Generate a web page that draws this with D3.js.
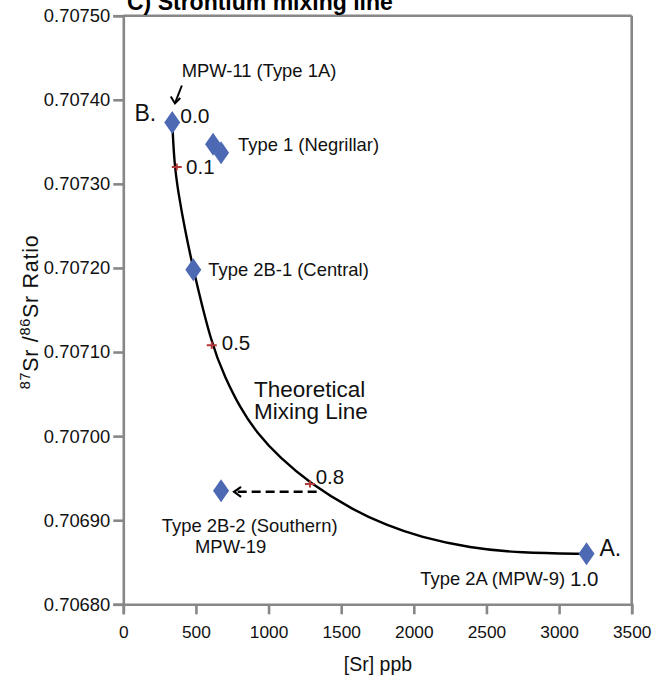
<!DOCTYPE html>
<html>
<head>
<meta charset="utf-8">
<script src="https://cdn.jsdelivr.net/npm/d3@7"></script>
<style>
  html, body { margin: 0; padding: 0; background: #fff; }
  svg { display: block; font-family: "Liberation Sans", Arial, Helvetica, sans-serif; }
</style>
</head>
<body>
<svg id="chart" width="652" height="678"></svg>
<script>
// ---------------- data ----------------
const title = "C) Strontium mixing line";
const xTicks = [0, 500, 1000, 1500, 2000, 2500, 3000, 3500];
const yTicks = [0.7068, 0.7069, 0.7070, 0.7071, 0.7072, 0.7073, 0.7074, 0.7075];

// sample diamonds
const sampleNames = ["MPW-11 (Type 1A)", "Type 1 (Negrillar) a", "Type 1 (Negrillar) b", "Type 2B-1 (Central)", "Type 2B-2 (Southern)", "Type 2A (MPW-9)"];
const sampleSr = [337, 618, 673, 482, 673, 3189];
const sampleRatio = [0.707373, 0.707347, 0.707337, 0.707198, 0.706935, 0.706860];

// theoretical mixing line
const curveSr = [337, 351, 379, 425, 482, 609, 700, 803, 918, 1079, 1285, 1581, 1813, 2043, 2387, 2731, 3189];
const curveRatio = [0.707373, 0.707324, 0.707289, 0.707245, 0.707198, 0.707108, 0.707070, 0.707034, 0.707004, 0.706974, 0.706944, 0.706912, 0.706894, 0.706880, 0.706867, 0.706861, 0.706860];

// mixing fraction ticks
const fracLabels = ["0.1", "0.5", "0.8"];
const fracSr = [368, 609, 1285];
const fracRatio = [0.70732, 0.707108, 0.706943];

// annotation of the line
const lineLabel = ["Theoretical", "Mixing Line"];
const lineLabelSr = 900;
const lineLabelRatio = 0.707047;

// ---------------- layout ----------------
const svg = d3.select("#chart");
const x = d3.scaleLinear().domain([0, 3500]).range([123.3, 631.7]);
const y = d3.scaleLinear().domain([0.7068, 0.7075]).range([604.3, 15.7]);
const gray = "#878787";
const blue = "#4d69b3";
const red = "#b33a3a";
const annSize = 18.4;

// frame
const frame = svg.append("g");
frame.append("line").attr("x1", x(0)).attr("x2", x(3500)).attr("y1", y(0.7075)).attr("y2", y(0.7075))
  .attr("stroke", gray).attr("stroke-width", 2.6);
frame.append("line").attr("x1", x(3500)).attr("x2", x(3500)).attr("y1", y(0.7075)).attr("y2", y(0.7068))
  .attr("stroke", gray).attr("stroke-width", 2.6);

// axes
const xAxis = d3.axisBottom(x).tickValues(xTicks).tickSize(10).tickPadding(11).tickFormat(d3.format("d"));
const gx = svg.append("g").attr("transform", `translate(0,${y(0.7068)})`).call(xAxis);
const yAxis = d3.axisLeft(y).tickValues(yTicks).tickSize(10).tickPadding(3).tickFormat(d => d.toFixed(5));
const gy = svg.append("g").attr("transform", `translate(${x(0)},0)`).call(yAxis);
[gx, gy].forEach(g => {
  g.select(".domain").attr("stroke", gray).attr("stroke-width", 2.6);
  g.selectAll(".tick line").attr("stroke", gray).attr("stroke-width", 2.6);
  g.selectAll(".tick text").attr("fill", "#111")
    .style("font-family", "'Liberation Sans', Arial, Helvetica, sans-serif");
});
gx.selectAll(".tick text").style("font-size", "17.3px");
gy.selectAll(".tick text").style("font-size", "18.4px");

// title
svg.append("text").attr("x", 127).attr("y", 10).attr("font-weight", "bold")
  .style("font-size", "23px").attr("fill", "#000").text(title);

// axis titles
svg.append("text").attr("x", 378).attr("y", 671).attr("text-anchor", "middle")
  .style("font-size", "19.5px").attr("fill", "#111").text("[Sr] ppb");
const yt = svg.append("text").attr("transform", "translate(38,312) rotate(-90)")
  .attr("text-anchor", "middle").style("font-size", "21.5px").style("letter-spacing", "0.7px").attr("fill", "#111");
yt.append("tspan").attr("baseline-shift", "super").style("font-size", "14.5px").text("87");
yt.append("tspan").text("Sr /");
yt.append("tspan").attr("baseline-shift", "super").style("font-size", "14.5px").text("86");
yt.append("tspan").text("Sr Ratio");

// mixing line
const line = d3.line().x((d, i) => x(curveSr[i])).y((d, i) => y(curveRatio[i])).curve(d3.curveBasis);
svg.append("path").attr("d", line(curveSr)).attr("fill", "none").attr("stroke", "#000").attr("stroke-width", 2.4);

// red fraction marks
fracSr.forEach((s, i) => {
  const cx = x(s), cy = y(fracRatio[i]);
  svg.append("path").attr("d", `M${cx - 5},${cy} L${cx + 5},${cy} M${cx},${cy - 3.5} L${cx},${cy + 3.5}`)
    .attr("stroke", red).attr("stroke-width", 2);
});
const fracOffsets = [[9.3, 6.7], [10, 5], [5.7, 0]];
fracLabels.forEach((t, i) => {
  svg.append("text").attr("x", x(fracSr[i]) + fracOffsets[i][0]).attr("y", y(fracRatio[i]) + fracOffsets[i][1])
    .style("font-size", "20.5px").attr("fill", "#111").text(t);
});

// dashed arrow from 0.8 to Type 2B-2
const ay = y(sampleRatio[4]) + 1;
const ax1 = x(fracSr[2]) + 6.7, ax2 = x(sampleSr[4]) + 13;
svg.append("line").attr("x1", ax1).attr("x2", ax2 + 3).attr("y1", ay).attr("y2", ay)
  .attr("stroke", "#000").attr("stroke-width", 2.4).attr("stroke-dasharray", "9,5");
svg.append("path").attr("d", `M${ax2 + 7},${ay - 5} L${ax2},${ay} L${ax2 + 7},${ay + 5}`)
  .attr("fill", "none").attr("stroke", "#000").attr("stroke-width", 2.2);

// diamonds
const diamond = "M0,-11.5 L8,0 L0,11.5 L-8,0 Z";
sampleSr.forEach((s, i) => {
  svg.append("path").attr("d", diamond)
    .attr("transform", `translate(${x(s)},${y(sampleRatio[i])})`).attr("fill", blue);
});

// text annotations
function txt(px, py, t, size, anchor) {
  return svg.append("text").attr("x", px).attr("y", py).style("font-size", size + "px")
    .attr("text-anchor", anchor || "start").attr("fill", "#111").text(t);
}
// B / MPW-11
const bx = x(sampleSr[0]), by = y(sampleRatio[0]);
txt(bx - 16, by - 1.5, "B.", 23, "end");
txt(bx + 8, by + 1, "0.0", 21);
txt(bx + 9.4, by - 45, "MPW-11 (Type 1A)", annSize);
svg.append("line").attr("x1", bx + 9.6).attr("y1", by - 37).attr("x2", bx + 3).attr("y2", by - 20)
  .attr("stroke", "#000").attr("stroke-width", 2);
svg.append("path").attr("d", `M${bx - 1.5},${by - 26} L${bx + 2.7},${by - 19} L${bx + 8},${by - 24.5}`)
  .attr("fill", "none").attr("stroke", "#000").attr("stroke-width", 2);
// Type 1
txt(x(sampleSr[2]) + 17, y(sampleRatio[2]) - 1.5, "Type 1 (Negrillar)", annSize);
// Type 2B-1
txt(x(sampleSr[3]) + 15, y(sampleRatio[3]) + 6.7, sampleNames[3], annSize);
// Type 2B-2
txt(x(sampleSr[4]) - 59.3, y(sampleRatio[4]) + 41, sampleNames[4], annSize);
txt(x(sampleSr[4]) - 26, y(sampleRatio[4]) + 62.6, "MPW-19", annSize);
// A
const axp = x(sampleSr[5]), ayp = y(sampleRatio[5]);
txt(axp + 13, ayp + 2, "A.", 23);
txt(axp - 16.5, ayp + 32, "1.0", 20.5);
txt(axp - 21.5, ayp + 31, sampleNames[5], annSize, "end");
// line label
txt(x(lineLabelSr), y(lineLabelRatio), lineLabel[0], 22.5);
txt(x(lineLabelSr), y(lineLabelRatio) + 22.6, lineLabel[1], 22.5);
</script>
</body>
</html>
